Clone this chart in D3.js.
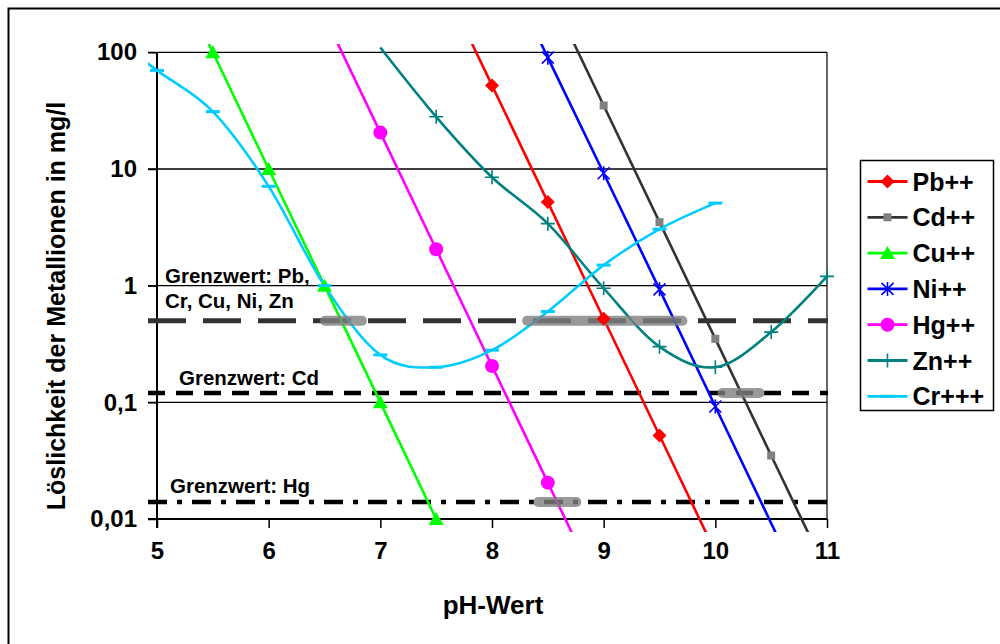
<!DOCTYPE html>
<html>
<head>
<meta charset="utf-8">
<script src="https://cdn.jsdelivr.net/npm/d3@7"></script>
<style>
  body { margin: 0; background: #fff; }
  text { font-family: "Liberation Sans", Arial, sans-serif; font-weight: bold; }
</style>
</head>
<body>
<svg width="1000" height="644"></svg>
<script>
var svg = d3.select("svg"),
    width = +svg.attr("width"),
    height = +svg.attr("height");

// x ticks, y ticks
var phTicks = [5, 6, 7, 8, 9, 10, 11];
var yTicks = [100, 10, 1, 0.1, 0.01];
var yTickLabels = ["100", "10", "1", "0,1", "0,01"];

// [pH, mg/l] - points outside the axis range only carry the line
var pbData = [[7.5, 520], [8, 52], [8.5, 5.2], [9, 0.52], [9.5, 0.052], [10, 0.0052]];
var cdData = [[8.5, 350], [9, 35], [9.5, 3.5], [10, 0.35], [10.5, 0.035], [11, 0.0035]];
var cuData = [[5, 1000], [5.5, 100], [6, 10], [6.5, 1], [7, 0.1], [7.5, 0.01]];
var niData = [[8, 900], [8.5, 90], [9, 9.2], [9.5, 0.93], [10, 0.092], [10.5, 0.0092], [11, 0.00092]];
var hgData = [[6.5, 205], [7, 20.5], [7.5, 2.05], [8, 0.205], [8.5, 0.0205], [9, 0.00205]];
var znData = [[7, 110], [7.5, 28], [8, 8.5], [8.5, 3.4], [9, 0.95], [9.5, 0.3], [10, 0.2], [10.5, 0.4], [11, 1.2]];
var crData = [[4.5, 160], [5, 70], [5.5, 31], [6, 7.1], [6.5, 1.0], [7, 0.255], [7.5, 0.2], [8, 0.28],
              [8.5, 0.6], [9, 1.5], [9.5, 3.05], [10, 5.1]];

var seriesNames = ["Pb++", "Cd++", "Cu++", "Ni++", "Hg++", "Zn++", "Cr+++"];

// limit values (Grenzwerte)
var limitValues = [0.5, 0.12, 0.014];
var limitLabels = [["Grenzwert: Pb,", "Cr, Cu, Ni, Zn"], ["Grenzwert: Cd"], ["Grenzwert: Hg"]];
// highlighted crossings: [pH from, pH to, limit]
var highlightRanges = [[6.46, 6.88, 0.5], [8.27, 9.75, 0.5], [10.02, 10.44, 0.12], [8.37, 8.8, 0.014]];

var series = [
  {name: seriesNames[0], data: pbData, color: "#ff0000", marker: "diamond", smooth: false},
  {name: seriesNames[1], data: cdData, color: "#333333", marker: "square", smooth: false},
  {name: seriesNames[2], data: cuData, color: "#00ff00", marker: "triangle", smooth: false},
  {name: seriesNames[3], data: niData, color: "#0000ff", marker: "asterisk", smooth: false},
  {name: seriesNames[4], data: hgData, color: "#ff00ff", marker: "circle", smooth: false},
  {name: seriesNames[5], data: znData, color: "#008080", marker: "plus", smooth: true},
  {name: seriesNames[6], data: crData, color: "#00ccff", marker: "dash", smooth: true}
];

var x = d3.scaleLinear().domain([5, 11]).range([157, 827]);
var y = d3.scaleLog().domain([0.01, 100]).range([519, 52.3]);

// outer frame
svg.append("rect")
   .attr("x", 8.5).attr("y", 8.5)
   .attr("width", 1010).attr("height", 700)
   .attr("fill", "none").attr("stroke", "#000").attr("stroke-width", 2);

svg.append("defs").append("clipPath").attr("id", "clip")
   .append("rect").attr("x", 148).attr("y", 44).attr("width", 690).attr("height", 488);

// grid lines
svg.append("g")
   .selectAll("line")
   .data(yTicks.slice(0, 4))
   .enter().append("line")
   .attr("x1", 148).attr("x2", x(11))
   .attr("y1", function(d) { return y(d); })
   .attr("y2", function(d) { return y(d); })
   .attr("stroke", "#000").attr("stroke-width", 1.3);

// right border of plot area
svg.append("line")
   .attr("x1", x(11)).attr("x2", x(11))
   .attr("y1", y(100)).attr("y2", y(0.01))
   .attr("stroke", "#000").attr("stroke-width", 1.2);

// y axis
var yAxis = svg.append("g")
   .attr("transform", "translate(" + x(5) + ",0)")
   .call(d3.axisLeft(y).tickValues(yTicks).tickSize(9).tickPadding(11)
         .tickFormat(function(d, i) { return yTickLabels[i]; }));
yAxis.select(".domain").attr("d", "M0," + y(100) + "V" + (y(0.01) + 9)).attr("stroke-width", 2);
yAxis.selectAll(".tick line").attr("stroke-width", 1.5);
yAxis.selectAll("text").attr("font-size", 24).attr("fill", "#000")
     .style("font-family", "'Liberation Sans', Arial, sans-serif");

// x axis
var xAxis = svg.append("g")
   .attr("transform", "translate(0," + y(0.01) + ")")
   .call(d3.axisBottom(x).tickValues(phTicks).tickSize(9).tickPadding(14)
         .tickFormat(d3.format("d")));
xAxis.select(".domain").attr("d", "M148,0H" + x(11)).attr("stroke-width", 2);
xAxis.selectAll(".tick line").attr("stroke-width", 1.5);
xAxis.selectAll("text").attr("font-size", 24).attr("fill", "#000")
     .style("font-family", "'Liberation Sans', Arial, sans-serif");

// axis titles
svg.append("text")
   .attr("transform", "translate(65," + 306 + ") rotate(-90)")
   .attr("text-anchor", "middle")
   .attr("font-size", 25)
   .text("Löslichkeit der Metallionen in mg/l");

svg.append("text")
   .attr("x", 493).attr("y", 614)
   .attr("text-anchor", "middle")
   .attr("font-size", 26)
   .text("pH-Wert");

// limit lines
var limitStyles = [
  {color: "#333333", dash: "38,17", width: 5},
  {color: "#000000", dash: "17,11", width: 4.5},
  {color: "#000000", dash: "19,10,5,10", width: 4.5}
];
svg.append("g")
   .selectAll("line")
   .data(limitValues)
   .enter().append("line")
   .attr("x1", 148).attr("x2", x(11) + 1)
   .attr("y1", function(d) { return y(d); })
   .attr("y2", function(d) { return y(d); })
   .attr("stroke", function(d, i) { return limitStyles[i].color; })
   .attr("stroke-width", function(d, i) { return limitStyles[i].width; })
   .attr("stroke-dasharray", function(d, i) { return limitStyles[i].dash; });

// limit labels
var labelPos = [[165, 283], [179, 385], [170, 493]];
limitLabels.forEach(function(lines, i) {
  lines.forEach(function(t, j) {
    svg.append("text")
       .attr("x", labelPos[i][0]).attr("y", labelPos[i][1] + j * 25)
       .attr("font-size", 20.5)
       .text(t);
  });
});

// series lines
var plot = svg.append("g").attr("clip-path", "url(#clip)");
series.forEach(function(s) {
  var line = d3.line()
      .x(function(d) { return x(d[0]); })
      .y(function(d) { return y(d[1]); })
      .curve(s.smooth ? d3.curveCardinal.tension(0) : d3.curveLinear);
  plot.append("path")
      .datum(s.data)
      .attr("fill", "none")
      .attr("stroke", s.color)
      .attr("stroke-width", 2.6)
      .attr("d", line);
});

// highlighted crossings
svg.append("g")
   .selectAll("rect")
   .data(highlightRanges)
   .enter().append("rect")
   .attr("x", function(d) { return x(d[0]); })
   .attr("width", function(d) { return x(d[1]) - x(d[0]); })
   .attr("y", function(d) { return y(d[2]) - 5; })
   .attr("height", 10)
   .attr("rx", 5)
   .attr("fill", "#808080")
   .attr("opacity", 0.8);

function drawMarker(g, type, color) {
  if (type == "diamond") {
    g.append("path").attr("d", "M0,-7L7,0L0,7L-7,0Z").attr("fill", color);
  } else if (type == "square") {
    g.append("rect").attr("x", -4).attr("y", -4).attr("width", 8).attr("height", 8).attr("fill", "#808080");
  } else if (type == "triangle") {
    g.append("path").attr("d", "M0,-7L7.5,6L-7.5,6Z").attr("fill", color);
  } else if (type == "asterisk") {
    g.append("path").attr("d", "M0,-7V7M-6,-6L6,6M-6,6L6,-6").attr("stroke", color).attr("stroke-width", 1.6);
  } else if (type == "circle") {
    g.append("circle").attr("r", 7).attr("fill", color);
  } else if (type == "plus") {
    g.append("path").attr("d", "M-7,0H7M0,-7V7").attr("stroke", color).attr("stroke-width", 1.6);
  } else if (type == "dash") {
    g.append("path").attr("d", "M-7,0H7").attr("stroke", color).attr("stroke-width", 3);
  }
}

// markers only for points inside the axis range
series.forEach(function(s) {
  s.data.forEach(function(d) {
    if (d[0] < 5 || d[0] > 11 || d[1] > 100.001 || d[1] < 0.00999) return;
    var g = svg.append("g").attr("transform", "translate(" + x(d[0]) + "," + y(d[1]) + ")");
    drawMarker(g, s.marker, s.color);
  });
});

// legend
var legend = svg.append("g").attr("transform", "translate(860.5,160.5)");
legend.append("rect")
      .attr("width", 133).attr("height", 250)
      .attr("fill", "#fff").attr("stroke", "#000").attr("stroke-width", 1.5);
series.forEach(function(s, i) {
  var cy = 21 + i * 35.8;
  legend.append("line")
        .attr("x1", 7).attr("x2", 47).attr("y1", cy).attr("y2", cy)
        .attr("stroke", s.color).attr("stroke-width", 2.8);
  drawMarker(legend.append("g").attr("transform", "translate(27," + cy + ")"), s.marker, s.color);
  legend.append("text")
        .attr("x", 52).attr("y", cy + 9)
        .attr("font-size", 25)
        .text(s.name);
});
</script>
</body>
</html>
